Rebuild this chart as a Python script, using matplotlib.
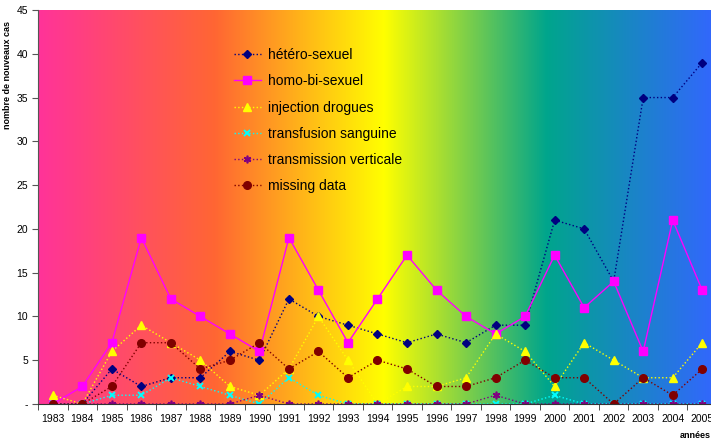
import matplotlib
matplotlib.use("Agg")
import matplotlib.pyplot as plt
import numpy as np
from matplotlib.colors import LinearSegmentedColormap

plt.rcParams['font.family'] = ['Liberation Sans', 'DejaVu Sans']

years = [str(y) for y in range(1983, 2006)]

hetero = [0, 0, 4, 2, 3, 3, 6, 5, 12, 10, 9, 8, 7, 8, 7, 9, 9, 21, 20, 14, 35, 35, 39]
homo = [0, 2, 7, 19, 12, 10, 8, 6, 19, 13, 7, 12, 17, 13, 10, 8, 10, 17, 11, 14, 6, 21, 13]
injection = [1, 0, 6, 9, 7, 5, 2, 1, 4, 10, 5, 0, 2, 2, 3, 8, 6, 2, 7, 5, 3, 3, 7]
transfusion = [0, 0, 1, 1, 3, 2, 1, 0, 3, 1, 0, 0, 0, 0, 0, 0, 0, 1, 0, 0, 0, 0, 0]
verticale = [0, 0, 0, 0, 0, 0, 0, 1, 0, 0, 0, 0, 0, 0, 0, 1, 0, 0, 0, 0, 0, 0, 0]
missing = [0, 0, 2, 7, 7, 4, 5, 7, 4, 6, 3, 5, 4, 2, 2, 3, 5, 3, 3, 0, 3, 1, 4]

fig = plt.figure(figsize=(7.11, 4.41), dpi=100)
# plot area runs a little past the right edge, like the original
ax = fig.add_axes([38 / 711, 37 / 441, 679 / 711, 394 / 441])

x = np.arange(len(years))

# background gradient
grad = LinearSegmentedColormap.from_list('bg', [
    (0.0, '#ff3399'), (0.26, '#ff6633'), (0.51, '#ffff00'),
    (0.63, '#80d048'), (0.75, '#00a58c'), (1.0, '#3366ff')])
ax.imshow(np.linspace(0, 1, 256)[None, :], cmap=grad, aspect='auto',
          extent=(-0.5, 22.5, 0, 45), zorder=0)

ax.plot(x, hetero, ':', color='#000080', marker='D', ms=4, lw=1.0, label='hétéro-sexuel', zorder=3)
ax.plot(x, homo, '-', color='#ff00ff', marker='s', ms=5.5, lw=1.0, label='homo-bi-sexuel', zorder=3)
ax.plot(x, injection, ':', color='#ffff00', marker='^', ms=5.5, lw=1.0, label='injection drogues', zorder=3)
ax.plot(x, transfusion, ':', color='#00ffff', marker='x', ms=5, mew=1.4, lw=1.0, label='transfusion sanguine', zorder=3)
ax.plot(x, verticale, ':', color='#800080', marker=(6, 2, 0), ms=5.5, mew=1.2, lw=1.0, label='transmission verticale', zorder=3)
ax.plot(x, missing, ':', color='#800000', marker='o', ms=5.5, lw=1.0, label='missing data', zorder=3)

ax.set_xlim(-0.5, 22.5)
ax.set_ylim(0, 45)
ax.set_yticks(range(0, 46, 5))
ax.set_yticklabels(['-'] + [str(v) for v in range(5, 46, 5)])
ax.set_xticks(x)
ax.set_xticklabels(years)
ax.set_xticks(np.arange(-0.5, 23, 1), minor=True)
ax.tick_params(axis='x', which='major', length=0, labelsize=7.5, pad=7)
ax.tick_params(axis='x', which='minor', length=4, color='#333333')
ax.tick_params(axis='y', length=4, labelsize=7.5, color='#555555', pad=3)

for s in ['top', 'right']:
    ax.spines[s].set_visible(False)
ax.spines['left'].set_color('#555555')
ax.spines['bottom'].set_color('#333333')
ax.spines['bottom'].set_zorder(4)

leg = ax.legend(loc='upper left', bbox_to_anchor=(0.27, 0.935), frameon=False,
                fontsize=10, labelspacing=0.88, handlelength=1.95, handletextpad=0.5)

fig.text(8 / 711, 1 - 75 / 441, 'nombre de nouveaux cas', rotation=90,
         ha='center', va='center', fontsize=6.5, fontweight='bold')
fig.text(680 / 711, 1 - 436 / 441, 'années', ha='left', va='center',
         fontsize=6.5, fontweight='bold')

fig.savefig('out.png', dpi=100)
